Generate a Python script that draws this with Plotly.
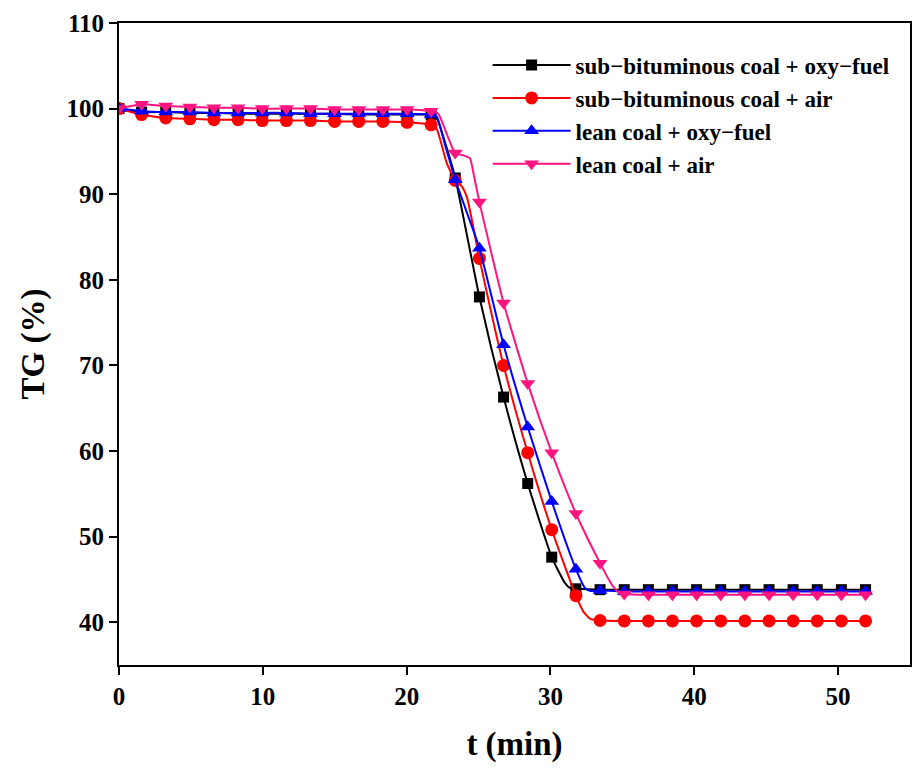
import plotly.graph_objects as go

# Sampling times of the plotted symbols (min)
t_marks = [0, 1.57, 3.25, 4.93, 6.60, 8.28, 9.96, 11.64, 13.31, 14.99, 16.67,
           18.35, 20.03, 21.70, 23.38, 25.06, 26.74, 28.42, 30.09, 31.77,
           33.45, 35.13, 36.81, 38.48, 40.16, 41.84, 43.52, 45.20, 46.87,
           48.55, 50.23, 51.91]

# TG (%) at the symbol times
tg_sub_oxy = [100.0, 99.6, 99.6, 99.5, 99.5, 99.4, 99.4, 99.4, 99.4, 99.4, 99.3,
              99.3, 99.3, 99.3, 91.9, 78.0, 66.3, 56.2, 47.6, 43.9,
              43.8, 43.8, 43.8, 43.8, 43.8, 43.8, 43.8, 43.8, 43.8, 43.8, 43.8, 43.8]
tg_sub_air = [100.0, 99.3, 98.9, 98.8, 98.7, 98.7, 98.6, 98.6, 98.6, 98.5, 98.5,
              98.5, 98.4, 98.1, 91.6, 82.5, 70.0, 59.8, 50.8, 43.1,
              40.2, 40.15, 40.15, 40.15, 40.15, 40.15, 40.15, 40.15, 40.15, 40.15, 40.15, 40.15]
tg_lean_oxy = [100.0, 99.7, 99.6, 99.6, 99.5, 99.5, 99.5, 99.5, 99.4, 99.4, 99.4,
               99.4, 99.4, 99.3, 91.7, 83.7, 72.4, 62.8, 54.1, 46.2,
               43.7, 43.6, 43.6, 43.6, 43.6, 43.6, 43.6, 43.6, 43.6, 43.6, 43.6, 43.6]
tg_lean_air = [100.0, 100.5, 100.3, 100.2, 100.1, 100.1, 100.0, 100.0, 100.0, 99.9, 99.9,
               99.9, 99.9, 99.7, 94.8, 89.1, 77.3, 67.9, 59.8, 52.7,
               46.9, 43.3, 43.2, 43.2, 43.2, 43.2, 43.2, 43.2, 43.2, 43.2, 43.2, 43.2]

# Additional curve points between symbols (t, TG)
knots_sub_oxy = [(22.05, 99.1), (22.6, 96.4), (31.0, 44.6), (31.4, 43.95)]
knots_sub_air = [(22.05, 97.8), (22.8, 93.6), (23.8, 91.0), (24.2, 89.6),
                 (32.3, 41.2), (32.8, 40.35)]
knots_lean_oxy = [(22.1, 99.0), (22.7, 95.6), (24.2, 87.8), (32.4, 44.0), (32.8, 43.65)]
knots_lean_air = [(22.2, 99.4), (22.8, 97.0), (24.0, 94.5), (24.4, 94.2), (24.7, 92.0),
                  (34.3, 44.3), (34.8, 43.4)]

names = ["sub\u2212bituminous coal + oxy\u2212fuel",
         "sub\u2212bituminous coal + air",
         "lean coal + oxy\u2212fuel",
         "lean coal + air"]
series = [tg_sub_oxy, tg_sub_air, tg_lean_oxy, tg_lean_air]
knots = [knots_sub_oxy, knots_sub_air, knots_lean_oxy, knots_lean_air]
colors = ["#000000", "#FF0000", "#0000FF", "#FF1480"]
symbols = ["square", "circle", "triangle-up", "triangle-down"]
sizes = [11, 13, 13, 13]

fig = go.Figure()
for name, vals, extra, col, sym, sz in zip(names, series, knots, colors, symbols, sizes):
    pts = sorted(list(zip(t_marks, vals)) + list(extra))
    fig.add_trace(go.Scatter(
        x=[p[0] for p in pts], y=[p[1] for p in pts], mode="lines",
        line=dict(color=col, width=2, shape="spline", smoothing=0.5),
        showlegend=False, hoverinfo="skip"))
    fig.add_trace(go.Scatter(
        x=t_marks, y=vals, mode="markers",
        marker=dict(symbol=sym, size=sz, color=col), showlegend=False))
    # legend entry
    fig.add_trace(go.Scatter(
        x=[None], y=[None], mode="lines+markers", name=name,
        line=dict(color=col, width=2),
        marker=dict(symbol=sym, size=sz, color=col)))

font_family = "Liberation Serif"
axis_common = dict(
    showline=True, linecolor="black", linewidth=2, mirror=True,
    ticks="outside", ticklen=8, tickwidth=2, tickcolor="black",
    showgrid=False, zeroline=False,
    tickfont=dict(family=font_family, size=25, color="black", weight="bold"),
)

fig.update_layout(
    width=915, height=769,
    margin=dict(l=119, r=3, t=23, b=104),
    plot_bgcolor="white", paper_bgcolor="white",
    xaxis=dict(range=[0, 55], dtick=10, tick0=0,
               title=dict(text="t (min)", standoff=23,
                          font=dict(family=font_family, size=33, color="black", weight="bold")),
               **axis_common),
    yaxis=dict(range=[35, 110], dtick=10, tick0=0,
               title=dict(text="TG (%)", standoff=12,
                          font=dict(family=font_family, size=33, color="black", weight="bold")),
               **axis_common),
    legend=dict(x=0.466, y=0.968, xanchor="left", yanchor="top",
                bgcolor="rgba(0,0,0,0)", itemwidth=78, tracegroupgap=0,
                font=dict(family=font_family, size=23, color="black", weight="bold")),
)

fig.write_html("out.html")
